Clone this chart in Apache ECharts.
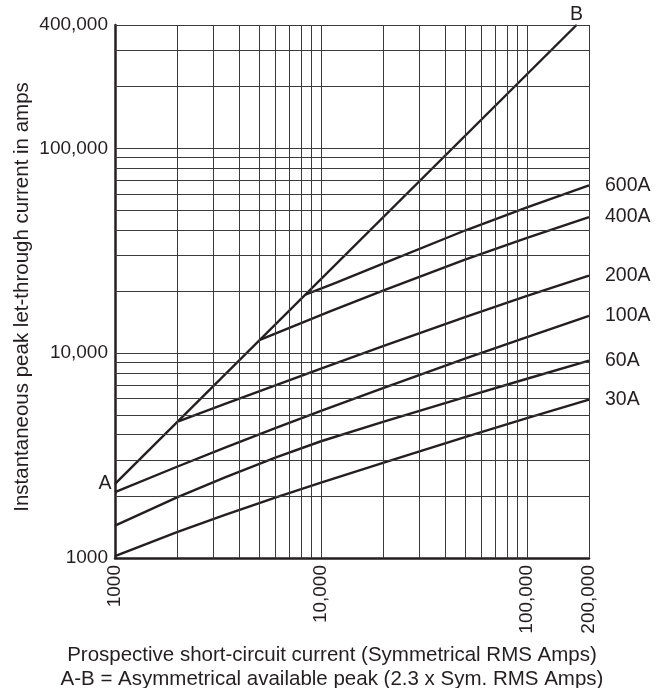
<!DOCTYPE html>
<html><head><meta charset="utf-8">
<script src="https://cdn.jsdelivr.net/npm/echarts@6/dist/echarts.min.js"></script>
<style>html,body{margin:0;padding:0;background:#fff}#c{width:664px;height:688px}</style>
</head><body><div id="c"></div>
<script>
// Tick labels
const xTickValues = [1000, 10000, 100000, 200000];
const xTickLabels = ['1000', '10,000', '100,000', '200,000'];
const yTickValues = [1000, 10000, 100000, 400000];
const yTickLabels = ['1000', '10,000', '100,000', '400,000'];
// Grid lines (log paper)
const xGridValues = [2000, 3000, 4000, 5000, 6000, 7000, 8000, 9000, 10000,
  20000, 30000, 40000, 50000, 60000, 70000, 80000, 90000, 100000, 200000];
const yGridValues = [2000, 3000, 4000, 5000, 6000, 7000, 8000, 9000, 10000,
  20000, 30000, 40000, 50000, 60000, 70000, 80000, 90000, 100000, 200000, 300000, 400000];

// A-B line (2.3 x Sym. RMS)
const abX = [1000, 174000];
const abY = [2300, 400000];
const abLabels = ['A', 'B'];
// Fuse curves
const f600X = [8400, 11700, 20000, 50000, 100000, 200000];
const f600Y = [19320, 22000, 27350, 39700, 51500, 65900];
const f400X = [5050, 11060, 20000, 50000, 100000, 200000];
const f400Y = [11600, 16000, 20200, 28610, 36500, 46200];
const f200X = [2030, 3420, 10000, 20000, 50000, 100000, 200000];
const f200Y = [4640, 5656, 8414, 10818, 14977, 19022, 23910];
const f100X = [1000, 2000, 3420, 6000, 10000, 20000, 50000, 100000, 200000];
const f100Y = [2099, 2789, 3456, 4304, 5226, 6755, 9396, 11975, 15210];
const f60X = [1000, 2000, 3420, 6000, 10000, 20000, 50000, 100000, 200000];
const f60Y = [1439, 1977, 2477, 3090, 3715, 4624, 6095, 7500, 9200];
const f30X = [1000, 2000, 3420, 6000, 10000, 20000, 50000, 100000, 200000];
const f30Y = [1021, 1338, 1624, 1971, 2333, 2915, 3890, 4820, 5930];

const fuseNames = ['600A', '400A', '200A', '100A', '60A', '30A'];
const fuseXs = [f600X, f400X, f200X, f100X, f60X, f30X];
const fuseYs = [f600Y, f400Y, f200Y, f100Y, f60Y, f30Y];

const FONT = 'Liberation Sans, Arial, Helvetica, sans-serif';
const TXT = '#231f20';
const LINE = '#231f20';

function lookup(vals, labels, v) {
  for (let i = 0; i < vals.length; i++) {
    if (Math.abs(Math.log10(v) - Math.log10(vals[i])) < 1e-4) return labels[i];
  }
  return '';
}
const zip = (xs, ys) => xs.map((x, i) => [x, ys[i]]);

const chart = echarts.init(document.getElementById('c'), null, {renderer: 'canvas'});
const series = [];
series.push({
  name: 'grid', type: 'line', data: [[1000, 1000]], showSymbol: false, silent: true, z: 1,
  lineStyle: {opacity: 0},
  markLine: {
    silent: true, symbol: ['none', 'none'], label: {show: false}, animation: false,
    lineStyle: {color: '#3a3a3a', width: 1, type: 'solid'},
    emphasis: {disabled: true},
    data: xGridValues.map(v => ({xAxis: v})).concat(yGridValues.map(v => ({yAxis: v})))
  }
});
series.push({
  name: 'A-B', type: 'line', z: 3, showSymbol: true, symbol: 'circle', symbolSize: 1,
  itemStyle: {color: LINE},
  lineStyle: {color: LINE, width: 2.4},
  labelLayout: {hideOverlap: false},
  data: zip(abX, abY).map((p, i) => ({
    value: p,
    label: {show: true, formatter: abLabels[i], position: i === 0 ? 'left' : 'top',
      distance: i === 0 ? 3 : 0, fontSize: 19.5, fontFamily: FONT, color: TXT}
  }))
});
fuseNames.forEach((n, k) => {
  series.push({
    name: n, type: 'line', z: 3, showSymbol: false, symbol: 'none', smooth: false,
    lineStyle: {color: LINE, width: 2.4, join: 'round'},
    data: zip(fuseXs[k], fuseYs[k]),
    endLabel: {show: true, formatter: '{a}', distance: 16, fontSize: 19.5, fontFamily: FONT, color: TXT}
  });
});

chart.setOption({
  animation: false,
  backgroundColor: '#fff',
  grid: {left: 115, right: 75, top: 25, bottom: 130, containLabel: false},
  xAxis: {
    type: 'log', logBase: 10, min: 1000, max: 200000,
    axisLine: {show: true, onZero: false, lineStyle: {color: LINE, width: 2.5}},
    axisTick: {show: false},
    splitLine: {show: false},
    minorSplitLine: {show: false},
    axisLabel: {rotate: 90, margin: 7, fontSize: 19, fontFamily: FONT, color: TXT,
      showMinLabel: true, showMaxLabel: true,
      formatter: v => lookup(xTickValues, xTickLabels, v)}
  },
  yAxis: {
    type: 'log', logBase: 10, min: 1000, max: 400000,
    axisLine: {show: true, onZero: false, lineStyle: {color: LINE, width: 2.5}},
    axisTick: {show: false},
    splitLine: {show: false},
    axisLabel: {margin: 7, fontSize: 19, fontFamily: FONT, color: TXT,
      showMinLabel: true, showMaxLabel: true,
      formatter: v => lookup(yTickValues, yTickLabels, v)}
  },
  graphic: [
    {type: 'text', x: 22, y: 297, rotation: Math.PI / 2,
      style: {text: 'Instantaneous peak let-through current in amps', font: '20.5px ' + FONT,
        fill: TXT, textAlign: 'center', textVerticalAlign: 'middle'}},
    {type: 'text', x: 332, y: 655,
      style: {text: 'Prospective short-circuit current (Symmetrical RMS Amps)', font: '20.5px ' + FONT,
        fill: TXT, textAlign: 'center', textVerticalAlign: 'middle'}},
    {type: 'text', x: 332, y: 679,
      style: {text: 'A-B = Asymmetrical available peak (2.3 x Sym. RMS Amps)', font: '20.5px ' + FONT,
        fill: TXT, textAlign: 'center', textVerticalAlign: 'middle'}}
  ],
  series: series
});
</script>
</body></html>
